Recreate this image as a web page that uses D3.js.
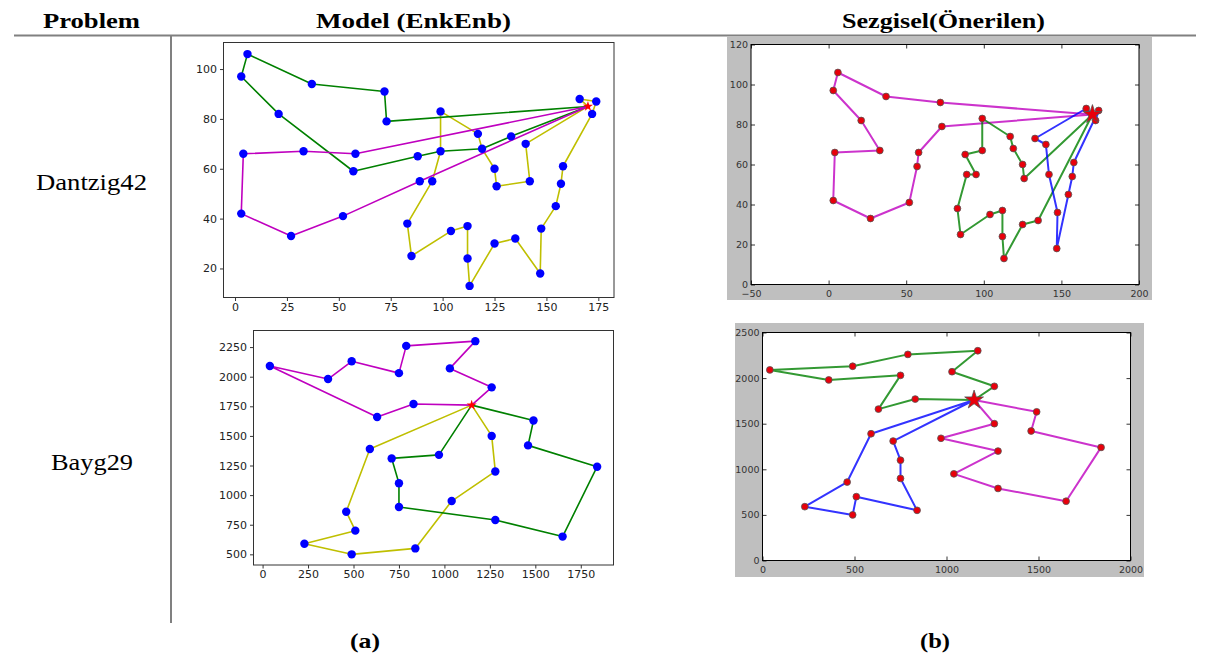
<!DOCTYPE html>
<html lang="tr">
<head>
<meta charset="UTF-8">
<title>Dantzig42 / Bayg29 rotaları</title>
<style>
  body { margin: 0; background: #fff; }
  svg { display: block; }
  .cap { font-family: "Liberation Serif", "Times New Roman", serif; fill: #000; }
  .tick text { font-family: "DejaVu Sans", sans-serif; }
</style>
</head>
<body>
<script src="https://cdn.jsdelivr.net/npm/d3@7"></script>
<script>
// sehir koordinatlari (0 = depo)
const dantzigCities = [
  [170, 85], [166, 88], [133, 73], [140, 70], [142, 55], [126, 53], [125, 60],
  [119, 68], [117, 74], [99, 83], [73, 79], [72, 91], [37, 94], [6, 106],
  [3, 97], [21, 82], [33, 67], [4, 66], [3, 42], [27, 33], [52, 41],
  [57, 59], [58, 66], [88, 65], [99, 67], [95, 55], [89, 55], [83, 38],
  [85, 25], [104, 35], [112, 37], [112, 24], [113, 13], [125, 30], [135, 32],
  [147, 18], [147.5, 36], [154.5, 45], [157, 54], [158, 61], [172, 82], [174, 87]
];
const baygCities = [
  [1150, 1760], [630, 1660], [40, 2090], [750, 1100], [750, 2030], [1030, 2070],
  [1650, 650], [1490, 1630], [790, 2260], [710, 1310], [840, 550], [1170, 2300],
  [970, 1340], [510, 700], [750, 900], [1280, 1200], [230, 590], [460, 860],
  [1040, 950], [590, 1390], [830, 1770], [490, 500], [1840, 1240], [1260, 1500],
  [1280, 790], [490, 2130], [1460, 1420], [1260, 1910], [360, 1980]
];

// rotalar: sehir indisleri
const dantzigModelRoutes = [
  [0, 1, 41, 40, 39, 38, 37, 36, 35, 34, 33, 32, 31, 30, 29, 28, 27, 25, 24, 9, 8, 7, 6, 5, 4, 3, 0],
  [0, 10, 11, 12, 13, 14, 15, 21, 23, 24, 7, 2, 0],
  [0, 22, 16, 17, 18, 19, 20, 26, 0]
];
const dantzigHeurRoutes = [
  [0, 11, 12, 13, 14, 15, 16, 17, 18, 19, 20, 21, 22, 10, 0],
  [0, 5, 6, 7, 8, 9, 24, 23, 25, 26, 27, 28, 29, 30, 31, 32, 33, 34, 0],
  [0, 1, 2, 3, 4, 36, 35, 37, 38, 39, 41, 40, 0]
];
const baygModelRoutes = [
  [0, 19, 17, 13, 16, 21, 10, 18, 15, 23, 0],
  [0, 12, 9, 3, 14, 24, 6, 22, 26, 7, 0],
  [0, 20, 1, 2, 28, 25, 4, 8, 11, 5, 27, 0]
];
const baygHeurRoutes = [
  [0, 27, 5, 11, 8, 25, 2, 28, 4, 1, 20, 0],
  [0, 19, 17, 16, 21, 13, 10, 14, 3, 9, 0],
  [0, 7, 26, 22, 6, 24, 18, 15, 12, 23, 0]
];

// eksen isaretleri
const dantzigModelXTicks = [0, 25, 50, 75, 100, 125, 150, 175];
const dantzigModelYTicks = [20, 40, 60, 80, 100];
const dantzigHeurXTicks = [-50, 0, 50, 100, 150, 200];
const dantzigHeurYTicks = [0, 20, 40, 60, 80, 100, 120];
const baygModelXTicks = [0, 250, 500, 750, 1000, 1250, 1500, 1750];
const baygModelYTicks = [500, 750, 1000, 1250, 1500, 1750, 2000, 2250];
const baygHeurXTicks = [0, 500, 1000, 1500, 2000];
const baygHeurYTicks = [0, 500, 1000, 1500, 2000, 2500];

const headers = ["Problem", "Model (EnkEnb)", "Sezgisel(Önerilen)"];
const problems = ["Dantzig42", "Bayg29"];
const subCaptions = ["(a)", "(b)"];

const svg = d3.select("body").append("svg").attr("width", 1224).attr("height", 656);

// tablo cizgileri
svg.append("line").attr("x1", 14).attr("x2", 1196).attr("y1", 35.5).attr("y2", 35.5)
  .attr("stroke", "#808080").attr("stroke-width", 2);
svg.append("line").attr("x1", 171).attr("x2", 171).attr("y1", 36).attr("y2", 623)
  .attr("stroke", "#808080").attr("stroke-width", 2);

const headerPos = [[91.5, 97], [413.5, 195], [943.5, 203]];
headers.forEach((t, i) => {
  svg.append("text").attr("class", "cap").attr("x", headerPos[i][0]).attr("y", 28)
    .attr("text-anchor", "middle").attr("font-weight", "bold").attr("font-size", 20)
    .attr("textLength", headerPos[i][1]).attr("lengthAdjust", "spacingAndGlyphs").text(t);
});
const problemPos = [[91.5, 190, 111], [92, 470, 82]];
problems.forEach((t, i) => {
  svg.append("text").attr("class", "cap").attr("x", problemPos[i][0]).attr("y", problemPos[i][1])
    .attr("text-anchor", "middle").attr("font-size", 24)
    .attr("textLength", problemPos[i][2]).attr("lengthAdjust", "spacingAndGlyphs").text(t);
});
const capPos = [365, 935];
subCaptions.forEach((t, i) => {
  svg.append("text").attr("class", "cap").attr("x", capPos[i]).attr("y", 648)
    .attr("text-anchor", "middle").attr("font-weight", "bold").attr("font-size", 21)
    .attr("textLength", 30).attr("lengthAdjust", "spacingAndGlyphs").text(t);
});

let clipId = 0;
function drawPanel(p) {
  const g = svg.append("g");
  if (p.classic) {
    g.append("rect").attr("x", p.bg[0]).attr("y", p.bg[1])
      .attr("width", p.bg[2] - p.bg[0]).attr("height", p.bg[3] - p.bg[1]).attr("fill", "#bfbfbf");
  }
  const x = d3.scaleLinear().domain(p.xDomain).range([p.left, p.right]);
  const y = d3.scaleLinear().domain(p.yDomain).range([p.bottom, p.top]);
  g.append("rect").attr("x", p.left).attr("y", p.top)
    .attr("width", p.right - p.left).attr("height", p.bottom - p.top).attr("fill", "#fff");

  const id = "clip" + (clipId++);
  g.append("clipPath").attr("id", id).append("rect")
    .attr("x", p.left).attr("y", p.top).attr("width", p.right - p.left).attr("height", p.bottom - p.top);
  const plot = g.append("g").attr("clip-path", `url(#${id})`);

  const line = d3.line().x(i => x(p.cities[i][0])).y(i => y(p.cities[i][1]));
  p.routes.forEach((r, k) => {
    plot.append("path").attr("d", line(r)).attr("fill", "none")
      .attr("stroke", p.colors[k]).attr("stroke-width", p.classic ? 2 : 1.6)
      .attr("stroke-opacity", p.classic ? 0.8 : 1).attr("stroke-linejoin", "round");
  });

  const others = p.cities.slice(1);
  if (p.classic) {
    plot.selectAll("circle.city").data(others).join("circle").attr("class", "city")
      .attr("cx", d => x(d[0])).attr("cy", d => y(d[1])).attr("r", 3.4)
      .attr("fill", "#e8000b").attr("stroke", "#555").attr("stroke-width", 0.8);
    plot.append("path").attr("d", d3.symbol(d3.symbolStar, 110)())
      .attr("transform", `translate(${x(p.cities[0][0])},${y(p.cities[0][1])})`)
      .attr("fill", "#e8000b").attr("stroke", "#555").attr("stroke-width", 0.8);
  } else {
    plot.selectAll("circle.city").data(others).join("circle").attr("class", "city")
      .attr("cx", d => x(d[0])).attr("cy", d => y(d[1])).attr("r", 4.2).attr("fill", "#0000ff");
    plot.append("path").attr("d", d3.symbol(d3.symbolStar, 32)())
      .attr("transform", `translate(${x(p.cities[0][0])},${y(p.cities[0][1])})`)
      .attr("fill", "#ff0000");
  }

  const fmt = d3.format("d");
  const fs = p.classic ? 9.5 : 11;
  const col = p.classic ? "#333" : "#222";
  const style = sel => {
    sel.select(".domain").remove();
    sel.selectAll(".tick line").attr("stroke", "#000").attr("stroke-width", 0.8);
    sel.selectAll(".tick text").attr("font-size", fs).attr("fill", col);
  };
  if (p.classic) {
    g.append("g").attr("transform", `translate(0,${p.bottom})`)
      .call(d3.axisBottom(x).tickValues(p.xTicks).tickSize(-4).tickPadding(6).tickFormat(fmt)).call(style);
    g.append("g").attr("transform", `translate(${p.left},0)`)
      .call(d3.axisLeft(y).tickValues(p.yTicks).tickSize(-4).tickPadding(3).tickFormat(fmt)).call(style);
    g.append("g").attr("transform", `translate(0,${p.top})`)
      .call(d3.axisTop(x).tickValues(p.xTicks).tickSize(-4).tickFormat("")).call(style);
    g.append("g").attr("transform", `translate(${p.right},0)`)
      .call(d3.axisRight(y).tickValues(p.yTicks).tickSize(-4).tickFormat("")).call(style);
  } else {
    g.append("g").attr("transform", `translate(0,${p.bottom})`)
      .call(d3.axisBottom(x).tickValues(p.xTicks).tickSize(3.5).tickPadding(2).tickFormat(fmt)).call(style);
    g.append("g").attr("transform", `translate(${p.left},0)`)
      .call(d3.axisLeft(y).tickValues(p.yTicks).tickSize(3.5).tickPadding(3).tickFormat(fmt)).call(style);
  }
  g.append("rect").attr("x", p.left).attr("y", p.top)
    .attr("width", p.right - p.left).attr("height", p.bottom - p.top)
    .attr("fill", "none").attr("stroke", p.classic ? "#000" : "#333").attr("stroke-width", 1);
}

const modelColors = ["#bfbf00", "#008000", "#bf00bf"];

drawPanel({
  cities: dantzigCities, routes: dantzigModelRoutes, colors: modelColors,
  xDomain: [-5.55, 182.55], yDomain: [8.35, 110.65],
  xTicks: dantzigModelXTicks, yTicks: dantzigModelYTicks,
  left: 223.5, right: 614, top: 42.5, bottom: 297.5, classic: false
});
drawPanel({
  cities: dantzigCities, routes: dantzigHeurRoutes, colors: ["#bf00bf", "#008000", "#0000ff"],
  xDomain: [-50, 200], yDomain: [0, 120],
  xTicks: dantzigHeurXTicks, yTicks: dantzigHeurYTicks,
  left: 751, right: 1139, top: 44.5, bottom: 284.5, classic: true, bg: [727, 37, 1152, 300]
});
drawPanel({
  cities: baygCities, routes: baygModelRoutes, colors: modelColors,
  xDomain: [-50, 1930], yDomain: [410, 2390],
  xTicks: baygModelXTicks, yTicks: baygModelYTicks,
  left: 253.5, right: 613.5, top: 330.5, bottom: 565, classic: false
});
drawPanel({
  cities: baygCities, routes: baygHeurRoutes, colors: ["#008000", "#0000ff", "#bf00bf"],
  xDomain: [0, 2000], yDomain: [0, 2500],
  xTicks: baygHeurXTicks, yTicks: baygHeurYTicks,
  left: 762.5, right: 1130.5, top: 332.5, bottom: 560.5, classic: true, bg: [735, 323, 1144, 577]
});
</script>
</body>
</html>
